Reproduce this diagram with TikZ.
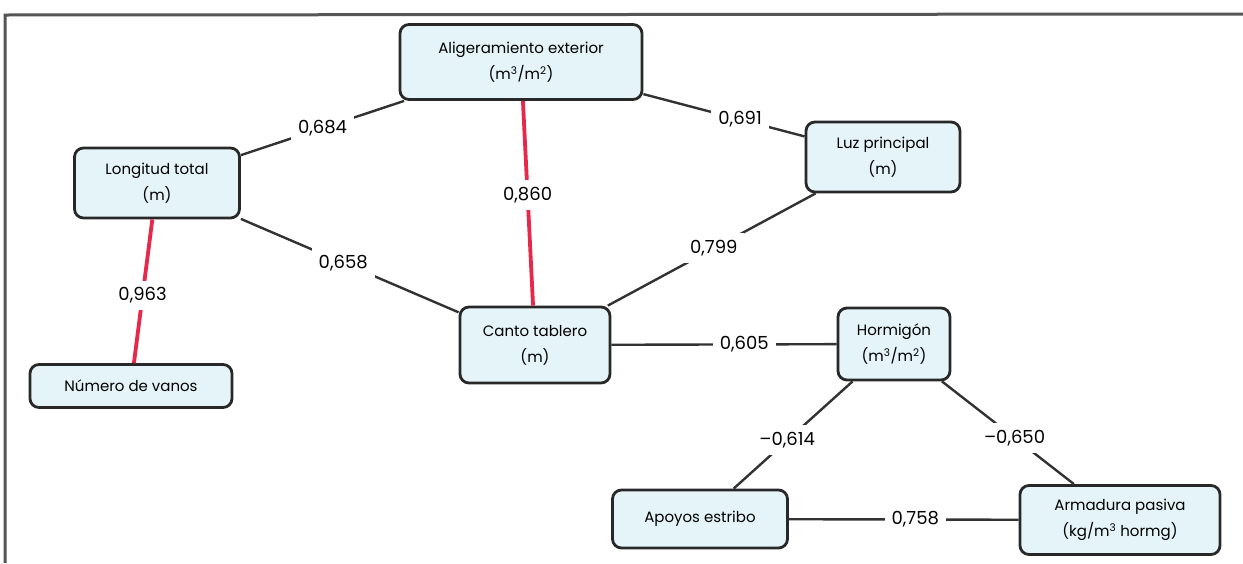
\documentclass[tikz,border=0pt]{standalone}
\usepackage{fontspec}
\setmainfont{Poppins}
\definecolor{boxfill}{RGB}{228,244,248}
\definecolor{boxline}{RGB}{40,40,40}
\definecolor{linkgray}{RGB}{50,50,50}
\definecolor{strongred}{RGB}{230,40,75}
\definecolor{framegray}{RGB}{85,85,85}
\begin{document}
\begin{tikzpicture}[x=1pt,y=-1pt,
    font=\fontsize{15pt}{26pt}\selectfont,
    box/.style={draw=boxline,line width=2.8pt,fill=boxfill,
      rounded corners=9pt,align=center,inner sep=2pt},
    coef/.style={fill=white,inner sep=7pt,font=\fontsize{18pt}{20pt}\selectfont},
    link/.style={draw=linkgray,line width=2.4pt},
    strong/.style={draw=strongred,line width=3.8pt}]
  \useasboundingbox (0,0) rectangle (1243,563);
  \draw[framegray,line width=3pt] (5,563) -- (5,15) -- (1243,14);

  \node[box,minimum width=242pt,minimum height=75pt] (alig) at (521,62)
        {Aligeramiento exterior\\(m\textsuperscript{3}/m\textsuperscript{2})};
  \node[box,minimum width=165pt,minimum height=70pt] (longt) at (157,183)
        {Longitud total\\(m)};
  \node[box,minimum width=154pt,minimum height=70pt] (luz) at (883,157)
        {Luz principal\\(m)};
  \node[box,minimum width=150pt,minimum height=76pt] (canto) at (535,345)
        {Canto tablero\\(m)};
  \node[box,minimum width=202pt,minimum height=43pt] (vanos) at (131,386)
        {Número de vanos};
  \node[box,minimum width=112pt,minimum height=72pt] (horm) at (894,344)
        {Hormigón\\(m\textsuperscript{3}/m\textsuperscript{2})};
  \node[box,minimum width=175pt,minimum height=58pt] (apoyos) at (700,519)
        {Apoyos estribo};
  \node[box,minimum width=200pt,minimum height=69pt] (armad) at (1120,520)
        {Armadura pasiva\\(kg/m\textsuperscript{3} hormg)};

  \draw[link] (longt) -- (alig) node[coef,pos=0.5] {0,684};
  \draw[link] (alig) -- (luz) node[coef,pos=0.6] {0,691};
  \draw[strong] (alig) -- (canto) node[coef,pos=0.46] {0,860};
  \draw[link] (longt) -- (canto) node[coef,pos=0.47] {0,658};
  \draw[link] (luz) -- (canto) node[coef,pos=0.49] {0,799};
  \draw[strong] (longt) -- (vanos) node[coef,pos=0.53] {0,963};
  \draw[link] (canto) -- (horm) node[coef,pos=0.59] {0,605};
  \draw[link] (horm) -- (apoyos) node[coef,pos=0.55] {–0,614};
  \draw[link] (horm) -- (armad) node[coef,pos=0.55] {–0,650};
  \draw[link] (apoyos) -- (armad) node[coef,pos=0.55] {0,758};
\end{tikzpicture}
\end{document}
